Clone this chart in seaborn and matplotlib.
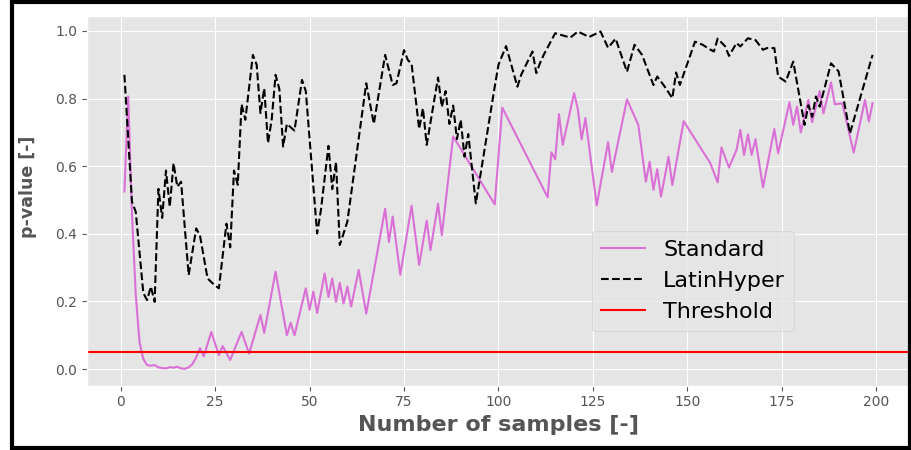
import matplotlib
matplotlib.use("Agg")
import matplotlib.pyplot as plt
from matplotlib.patches import Rectangle
import seaborn as sns

# p-values of the standard sampling run
std_n = [1, 2, 3, 4, 5, 6, 7, 8, 9, 10, 11, 12, 13, 14, 15, 16, 17, 18, 19, 20,
         21, 22, 24, 26, 27, 29, 32, 34, 37, 38, 41, 44, 45, 46, 49, 50, 51, 52,
         54, 55, 56, 57, 58, 59, 60, 61, 63, 65, 70, 71, 72, 74, 77, 79, 81, 82,
         84, 85, 88, 99, 101, 113, 114, 115, 116, 117, 120, 121, 122, 123, 126,
         129, 130, 134, 137, 139, 140, 141, 142, 143, 145, 146, 149, 156, 158,
         159, 161, 163, 164, 165, 166, 167, 168, 170, 173, 174, 177, 178, 179,
         180, 182, 183, 185, 186, 188, 189, 191, 194, 197, 198, 199]
std_p = [0.525, 0.806, 0.46, 0.22, 0.08, 0.03, 0.012, 0.01, 0.012, 0.005, 0.003,
         0.002, 0.006, 0.004, 0.007, 0.002, 0.001, 0.005, 0.015, 0.035, 0.062,
         0.038, 0.11, 0.041, 0.068, 0.027, 0.11, 0.046, 0.16, 0.107, 0.288, 0.10,
         0.137, 0.10, 0.239, 0.175, 0.229, 0.166, 0.283, 0.213, 0.268, 0.199,
         0.255, 0.194, 0.244, 0.185, 0.293, 0.164, 0.474, 0.376, 0.451, 0.279,
         0.483, 0.308, 0.439, 0.352, 0.489, 0.396, 0.688, 0.487, 0.773, 0.508,
         0.641, 0.62, 0.754, 0.663, 0.816, 0.768, 0.679, 0.742, 0.484, 0.671,
         0.583, 0.797, 0.722, 0.554, 0.613, 0.53, 0.591, 0.51, 0.628, 0.544,
         0.733, 0.61, 0.552, 0.655, 0.596, 0.648, 0.707, 0.633, 0.694, 0.633,
         0.68, 0.537, 0.71, 0.638, 0.789, 0.722, 0.776, 0.70, 0.796, 0.73, 0.822,
         0.756, 0.848, 0.783, 0.786, 0.64, 0.796, 0.732, 0.786]

# p-values of the Latin hypercube sampling run
lhs_n = [1, 3, 4, 6, 7, 8, 9, 10, 11, 12, 13, 14, 15, 16, 18, 20, 21, 23, 25, 26,
         28, 29, 30, 31, 32, 33, 35, 36, 37, 38, 39, 40, 41, 42, 43, 44, 46, 48,
         49, 52, 53, 55, 56, 57, 58, 60, 65, 67, 70, 72, 73, 75, 76, 77, 79, 80,
         81, 84, 85, 86, 87, 88, 89, 90, 91, 92, 94, 99, 100, 102, 105, 106, 109,
         110, 111, 112, 115, 119, 121, 124, 127, 129, 131, 134, 136, 138, 139,
         141, 142, 144, 146, 147, 148, 152, 154, 156, 157, 158, 160, 161, 163,
         164, 166, 168, 170, 171, 173, 174, 176, 178, 181, 182, 183, 184, 185,
         188, 190, 193, 199]
lhs_p = [0.870, 0.495, 0.465, 0.225, 0.204, 0.244, 0.199, 0.533, 0.447, 0.587,
         0.480, 0.609, 0.539, 0.554, 0.278, 0.416, 0.395, 0.268, 0.247, 0.239,
         0.430, 0.360, 0.587, 0.545, 0.783, 0.737, 0.929, 0.900, 0.757, 0.830,
         0.668, 0.740, 0.870, 0.828, 0.658, 0.725, 0.705, 0.855, 0.822, 0.401,
         0.470, 0.660, 0.532, 0.612, 0.367, 0.436, 0.845, 0.725, 0.929, 0.840,
         0.845, 0.943, 0.914, 0.902, 0.710, 0.771, 0.663, 0.862, 0.775, 0.822,
         0.725, 0.779, 0.680, 0.737, 0.628, 0.695, 0.490, 0.835, 0.900, 0.955,
         0.835, 0.870, 0.939, 0.875, 0.905, 0.930, 0.993, 0.980, 0.998, 0.982,
         0.998, 0.950, 0.977, 0.879, 0.959, 0.929, 0.899, 0.840, 0.865, 0.835,
         0.801, 0.877, 0.840, 0.968, 0.959, 0.945, 0.939, 0.977, 0.954, 0.926,
         0.964, 0.954, 0.978, 0.973, 0.944, 0.949, 0.949, 0.865, 0.850, 0.909,
         0.722, 0.780, 0.746, 0.806, 0.776, 0.904, 0.880, 0.697, 0.929]

threshold = 0.05
x_ticks = [0, 25, 50, 75, 100, 125, 150, 175, 200]
y_ticks = [0.0, 0.2, 0.4, 0.6, 0.8, 1.0]

plt.style.use("ggplot")
fig = plt.figure(figsize=(9.11, 4.5), dpi=100)
ax = fig.add_axes([0.0955, 0.1429, 0.9034, 0.8216])

sns.lineplot(x=std_n, y=std_p, color="orchid", linewidth=1.5,
             label="Standard", ax=ax)
sns.lineplot(x=lhs_n, y=lhs_p, color="black", linestyle="--", linewidth=1.5,
             label="LatinHyper", ax=ax)
ax.axhline(threshold, color="red", linewidth=1.5, label="Threshold")

ax.set_xlim(-8.9, 208.9)
ax.set_ylim(-0.049, 1.044)
ax.set_xticks(x_ticks)
ax.set_yticks(y_ticks)
ax.tick_params(labelsize=10, colors="#555555")

ax.set_xlabel("Number of samples [-]", fontsize=16, fontweight="bold",
              color="#555555")
ax.set_ylabel("p-value [-]", fontsize=12.5, fontweight="bold",
              color="#555555")
ax.yaxis.set_label_coords(-0.061, 0.538)

ax.legend(loc="upper left", bbox_to_anchor=(0.6136, 0.4185),
          borderaxespad=0, fontsize=16)

# black border around the whole figure
fig.add_artist(Rectangle((12 / 911, 2 / 450), 897.5 / 911, 446 / 450,
                         transform=fig.transFigure, fill=False,
                         edgecolor="black", linewidth=3, zorder=10))

fig.savefig("out.png", dpi=100)
